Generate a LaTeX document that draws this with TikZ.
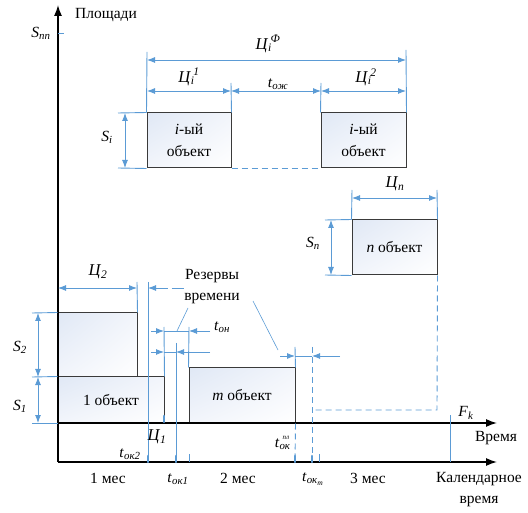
\documentclass[tikz,border=0pt]{standalone}
\usepackage{fontspec}
\setmainfont{Liberation Serif}
\usetikzlibrary{arrows.meta,shadings}
\definecolor{dimblue}{HTML}{5B9BD5}
\definecolor{boxline}{HTML}{3A3A3A}
\definecolor{tintA}{HTML}{E0E8F5}
\definecolor{tintB}{HTML}{F2F5FB}
\newcommand\Sb[2]{\textit{#1}\textsubscript{\textit{#2}}}
\newcommand\SbSp[3]{\textit{#1}\rlap{\textsubscript{\textit{#2}}}\kern2.5pt\textsuperscript{\textit{#3}}}
\begin{document}
\begin{tikzpicture}[x=1pt,y=-1pt,
  txt/.style={inner sep=0pt, font=\fontsize{15.5}{18}\selectfont},
  big/.style={inner sep=0pt, font=\fontsize{16.5}{19}\selectfont},
  obj/.style={draw=boxline, line width=1pt, upper left=tintA, upper right=tintB,
     lower left=tintB, lower right=white, inner sep=0pt, align=center,
     font=\fontsize{15.5}{22}\selectfont},
  dimline/.style={draw=dimblue, line width=0.9pt},
  onearrow/.style={-{Latex[length=8pt,width=6pt]}},
  dimboth/.style={{Latex[length=8pt,width=6pt]}-{Latex[length=8pt,width=6pt]}},
  axisline/.style={draw=black, line width=1.4pt, -{Latex[length=11pt,width=8pt]}},
  tmark/.style={draw=dimblue, line width=2.6pt, line cap=round},
  dashblue/.style={dimline, dash pattern=on 6pt off 4pt},
  leader/.style={draw=dimblue, line width=0.6pt},
]
\useasboundingbox (0,0) rectangle (528,513);

% ---------- boxes ----------
\node[obj, minimum width=84pt, minimum height=55pt] (iA) at (189,140.5) {\textit{i}-ый\\объект};
\node[obj, minimum width=85pt, minimum height=55pt] (iB) at (363.5,140.5) {\textit{i}-ый\\объект};
\node[obj, minimum width=85pt, minimum height=55pt] (nB) at (394.5,247.5) {\textit{n} объект};
\node[obj, minimum width=79pt, minimum height=64pt] (b2) at (97.5,345) {};
\node[obj, minimum width=106pt, minimum height=46pt] (b1) at (111,400) {1 объект};
\node[obj, minimum width=106pt, minimum height=55pt] (bm) at (242,395.5) {\textit{m} объект};

% ---------- axes ----------
\coordinate (O) at (58,462);
\coordinate (Ytop) at (58,5);
\coordinate (T0) at (58,423);
\coordinate (Tend) at (497,423);
\coordinate (Cend) at (497,462);
\draw[axisline] (O) -- (Ytop);
\draw[axisline] (T0) -- (Tend);
\draw[axisline] (O) -- (Cend);

\node[txt] (lPl) at (106,15) {Площади};
\node[txt] (lSpp) at (41,33) {\Sb{S}{пп}};
\coordinate (spp0) at (58,33); \coordinate (spp1) at (64,33);
\draw[dimline] (spp0) -- (spp1);
\node[txt] (lT) at (496,438) {Время};
\node[txt, align=center, font=\fontsize{15.5}{21}\selectfont] (lC) at (479,490) {Календарное\\время};
\node[txt] (lFk) at (466,413) {\Sb{F}{k}};
\coordinate (fk1) at (450,415); \coordinate (fk2) at (450,462);
\draw[dimline] (fk1) -- (fk2);

\node[txt] (m1) at (108,478) {1 мес};
\node[txt] (m2) at (238,478) {2 мес};
\node[txt] (m3) at (368,478) {3 мес};

% ---------- top: i-th object ----------
\coordinate (eF1) at (147,52); \coordinate (eF2) at (406,50);
\draw[dimline] (iA.north west) -- (eF1);
\draw[dimline] (iB.north east) -- (eF2);
\coordinate (aF1) at (147,60); \coordinate (aF2) at (406,60);
\draw[dimline, dimboth] (aF1) -- (aF2);
\node[big] (lCF) at (268,44) {\SbSp{Ц}{i}{Ф}};

\coordinate (e1) at (231,83); \coordinate (e2) at (321,83);
\draw[dimline] (iA.north east) -- (e1);
\draw[dimline] (iB.north west) -- (e2);
\coordinate (r1a) at (147,91); \coordinate (r1b) at (231,91);
\coordinate (r1c) at (321,91); \coordinate (r1d) at (406,91);
\draw[dimline, dimboth] (r1a) -- (r1b);
\draw[dimline, dimboth] (r1b) -- (r1c);
\draw[dimline, dimboth] (r1c) -- (r1d);
\node[big] (lC1) at (189,77) {\SbSp{Ц}{i}{1}};
\node[txt] (lTo) at (278,84) {\Sb{t}{ож}};
\node[big] (lC2i) at (366,77) {\SbSp{Ц}{i}{2}};

\coordinate (si1) at (118,113); \coordinate (si2) at (118,168);
\coordinate (si3) at (125,113); \coordinate (si4) at (125,168);
\draw[dimline] (si1) -- (iA.north west);
\draw[dimline] (si2) -- (iA.south west);
\draw[dimline, dimboth] (si3) -- (si4);
\node[txt] (lSi) at (107,137) {\Sb{S}{i}};
\draw[dashblue] (iA.south east) -- (iB.south west);

% ---------- n object ----------
\coordinate (en1) at (352,190); \coordinate (en2) at (437,190);
\coordinate (an1) at (352,198); \coordinate (an2) at (437,198);
\draw[dimline] (nB.north west) -- (en1);
\draw[dimline] (nB.north east) -- (en2);
\draw[dimline, dimboth] (an1) -- (an2);
\node[big] (lCn) at (395,184) {\Sb{Ц}{n}};
\coordinate (sn1) at (325,220); \coordinate (sn2) at (325,275);
\coordinate (sn3) at (331,220); \coordinate (sn4) at (331,275);
\draw[dimline] (sn1) -- (nB.north west);
\draw[dimline] (sn2) -- (nB.south west);
\draw[dimline, dimboth] (sn3) -- (sn4);
\node[txt] (lSn) at (313,243) {\Sb{S}{n}};
\coordinate (dn1) at (437,410); \coordinate (dn2) at (312,410);
\coordinate (dv1) at (312,347); \coordinate (dv2) at (312,462);
\draw[dashblue] (nB.south east) -- (dn1) -- (dn2);
\draw[dashblue] (dv1) -- (dv2);

% ---------- left: S2, S1, Ц2 ----------
\coordinate (s0) at (32,313); \coordinate (s1) at (32,377); \coordinate (s2) at (32,423);
\coordinate (a0) at (38,313); \coordinate (a1) at (38,377); \coordinate (a2) at (38,423);
\draw[dimline] (s0) -- (b2.north west);
\draw[dimline] (s1) -- (b1.north west);
\draw[dimline] (s2) -- (T0);
\draw[dimline, dimboth] (a0) -- (a1);
\draw[dimline, dimboth] (a1) -- (a2);
\node[txt] (lS2) at (20,347) {\Sb{S}{2}};
\node[txt] (lS1) at (20,406) {\Sb{S}{1}};

\coordinate (c2e) at (137,282);
\draw[dimline] (b2.north east) -- (c2e);
\coordinate (c2a) at (58,288); \coordinate (c2b) at (137,288);
\draw[dimline, dimboth] (c2a) -- (c2b);
\node[big] (lCc2) at (98,272) {\Sb{Ц}{2}};

\coordinate (v148a) at (148,282); \coordinate (v148b) at (148,462);
\draw[dimline] (v148a) -- (v148b);
\coordinate (r0a) at (186,288); \coordinate (r0b) at (148,288);
\draw[dimline, {Latex[length=8pt,width=6pt]}-, dash pattern=on 12pt off 4pt] (r0b) -- (r0a);

% reserve rows
\coordinate (q1) at (151,331); \coordinate (q2) at (164,331);
\coordinate (q3) at (189,331); \coordinate (q4) at (210,331);
\draw[dimline, onearrow] (q1) -- (q2);
\draw[dimline] (q2) -- (q3);
\draw[dimline, onearrow] (q4) -- (q3);
\node[txt] (lTon) at (222,327) {\Sb{t}{он}};
\coordinate (v164) at (164,327); \coordinate (v189) at (189,327);
\draw[dimline] (v164) -- (b1.north east);
\draw[dimline] (v189) -- (bm.north west);

\coordinate (p1) at (151,352); \coordinate (p2) at (164,352);
\coordinate (p3) at (176,352); \coordinate (p4) at (210,352);
\draw[dimline, onearrow] (p1) -- (p2);
\draw[dimline] (p2) -- (p3);
\draw[dimline, onearrow] (p4) -- (p3);
\coordinate (v176a) at (176,343); \coordinate (v176b) at (176,462);
\draw[dimline] (v176a) -- (v176b);

\coordinate (w1) at (280,356); \coordinate (w2) at (295,356);
\coordinate (w3) at (312,356); \coordinate (w4) at (340,356);
\draw[dimline, onearrow] (w1) -- (w2);
\draw[dimline] (w2) -- (w3);
\draw[dimline, onearrow] (w4) -- (w3);
\coordinate (v295a) at (295,347); \coordinate (v295b) at (295,462);
\draw[dimline] (v295a) -- (bm.north east);
\draw[dashblue] (bm.south east) -- (v295b);

\node[txt, align=center, font=\fontsize{15.5}{21}\selectfont] (lRes) at (212,287) {Резервы\\времени};
\coordinate (L1a) at (188,308); \coordinate (L1b) at (177,331);
\coordinate (L2a) at (253,301); \coordinate (L2b) at (278,350);
\draw[leader] (L1a) -- (L1b);
\draw[leader] (L2a) -- (L2b);

% ---------- ticks on axes ----------
\coordinate (k1a) at (148,456); \coordinate (k1b) at (148,462);
\coordinate (k2a) at (176,456); \coordinate (k2b) at (176,462);
\coordinate (k3a) at (295,456); \coordinate (k3b) at (295,462);
\coordinate (k4a) at (312,456); \coordinate (k4b) at (312,462);
\coordinate (k5a) at (164,416); \coordinate (k5b) at (164,422);
\draw[tmark] (k1a) -- (k1b);
\draw[tmark] (k2a) -- (k2b);
\draw[tmark] (k3a) -- (k3b);
\draw[tmark] (k4a) -- (k4b);
\draw[tmark] (k5a) -- (k5b);
\coordinate (t1a) at (189,454); \coordinate (t1b) at (189,462);
\coordinate (t2a) at (319,454); \coordinate (t2b) at (319,462);
\draw[dimline] (t1a) -- (t1b);
\draw[dimline] (t2a) -- (t2b);

\node[big] (lC1b) at (157,437) {\Sb{Ц}{1}};
\node[txt] (lTok2) at (130,454) {\Sb{t}{ок2}};
\node[txt] (lTok1) at (178,479) {\Sb{t}{ок1}};
\node[txt] (lTokp) at (282,443) {\textit{t}\rlap{\textsubscript{\textit{ок}}}\kern3pt\raisebox{1.2ex}{\scriptsize\textit{пл}}};
\node[txt] (lTokm) at (313,479) {\Sb{t}{ок\textsubscript{m}}};
\end{tikzpicture}
\end{document}
